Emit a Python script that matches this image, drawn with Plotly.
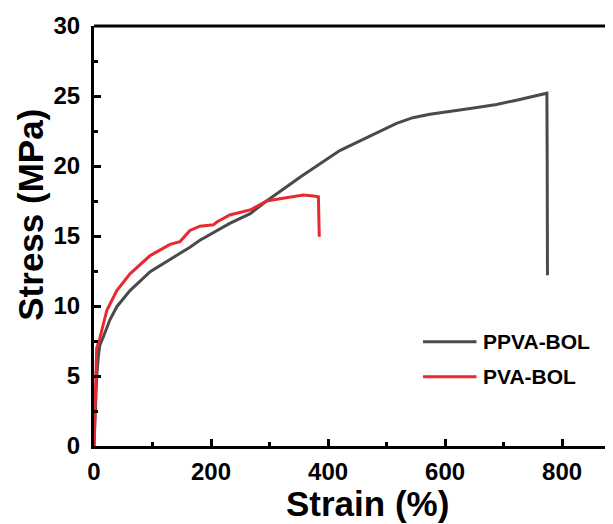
import plotly.graph_objects as go

# PPVA-BOL (gray)
ppva_strain = [0, 1, 2.5, 4.6, 7.4, 10, 16, 27, 39, 61.5, 96, 130, 164, 181, 198, 232, 267, 295,
               352, 403, 420, 460, 517, 545, 574, 643, 688, 722, 774, 774.5, 775]
ppva_stress = [0, 1.5, 3.5, 4.95, 6.4, 7.2, 7.8, 9.0, 9.95, 11.1, 12.45, 13.3, 14.2, 14.7, 15.1,
               15.9, 16.6, 17.5, 19.2, 20.6, 21.1, 21.9, 23.05, 23.45, 23.7, 24.1, 24.4, 24.7,
               25.2, 20.7, 12.2]

# PVA-BOL (red)
pva_strain = [0, 1, 2, 3, 4.6, 10, 22, 39, 61.5, 96, 130, 147, 164, 181, 204, 210, 232, 267,
              295, 323, 358, 375, 383.5, 385]
pva_stress = [0, 1.5, 3.5, 5.5, 7.0, 7.7, 9.7, 11.1, 12.3, 13.6, 14.4, 14.6, 15.4, 15.7, 15.8,
              16.0, 16.5, 16.86, 17.5, 17.7, 17.93, 17.85, 17.8, 14.95]

series_names = ["PPVA-BOL", "PVA-BOL"]
series_colors = ["#4a4a4a", "#e8292f"]

x_ticks = [0, 200, 400, 600, 800]
y_ticks = [0, 5, 10, 15, 20, 25, 30]

FONT = "Liberation Sans, Arial, sans-serif"

fig = go.Figure()
fig.add_trace(go.Scatter(x=ppva_strain, y=ppva_stress, mode="lines", name=series_names[0],
                         line=dict(color=series_colors[0], width=3), showlegend=False))
fig.add_trace(go.Scatter(x=pva_strain, y=pva_stress, mode="lines", name=series_names[1],
                         line=dict(color=series_colors[1], width=3), showlegend=False))

axis_common = dict(
    showline=True, linecolor="black", linewidth=3, ticks="inside", ticklen=7,
    tickwidth=2.5, tickcolor="black", showgrid=False, zeroline=False, automargin=False,
    tickfont=dict(family=FONT, size=24, color="black", weight="bold"),
)

fig.update_xaxes(
    range=[0, 887], tickvals=x_ticks, ticktext=[str(v) for v in x_ticks],
    minor=dict(ticks="inside", ticklen=4, tickwidth=2.5, tickcolor="black", dtick=100, tick0=0),
    ticklabelstandoff=2,
    **axis_common,
)
fig.update_yaxes(
    range=[0, 30], tickvals=y_ticks, ticktext=[str(v) for v in y_ticks],
    minor=dict(ticks="inside", ticklen=4, tickwidth=2.5, tickcolor="black", dtick=2.5, tick0=0),
    ticklabelstandoff=6,
    **axis_common,
)

# axis titles
fig.add_annotation(xref="paper", yref="paper", x=0.527, y=-0.136, text="Strain (%)",
                   showarrow=False, xanchor="center", yanchor="middle",
                   font=dict(family=FONT, size=35, color="black", weight="bold"))
fig.add_annotation(xref="paper", yref="paper", x=-0.123, y=0.551, text="Stress (MPa)",
                   showarrow=False, xanchor="center", yanchor="middle", textangle=-90,
                   font=dict(family=FONT, size=35, color="black", weight="bold"))

# top border line (no right border visible in reference)
fig.add_shape(type="line", xref="paper", yref="paper", x0=0, x1=1, y0=1, y1=1,
              line=dict(color="black", width=3))

# manual legend
leg_y = [0.248, 0.165]
for name, color, yy in zip(series_names, series_colors, leg_y):
    fig.add_shape(type="line", xref="paper", yref="paper", x0=0.634, x1=0.737, y0=yy, y1=yy,
                  line=dict(color=color, width=3))
    fig.add_annotation(xref="paper", yref="paper", x=0.746, y=yy, text=name, showarrow=False,
                       xanchor="left", yanchor="middle",
                       font=dict(family=FONT, size=21, color="black", weight="bold"))

# the page body has an 8px default margin, so the figure is offset by 8px
fig.update_layout(
    width=605, height=516,
    margin=dict(l=86, r=0, t=18, b=78),
    plot_bgcolor="white", paper_bgcolor="white",
)

fig.write_html("out.html")
